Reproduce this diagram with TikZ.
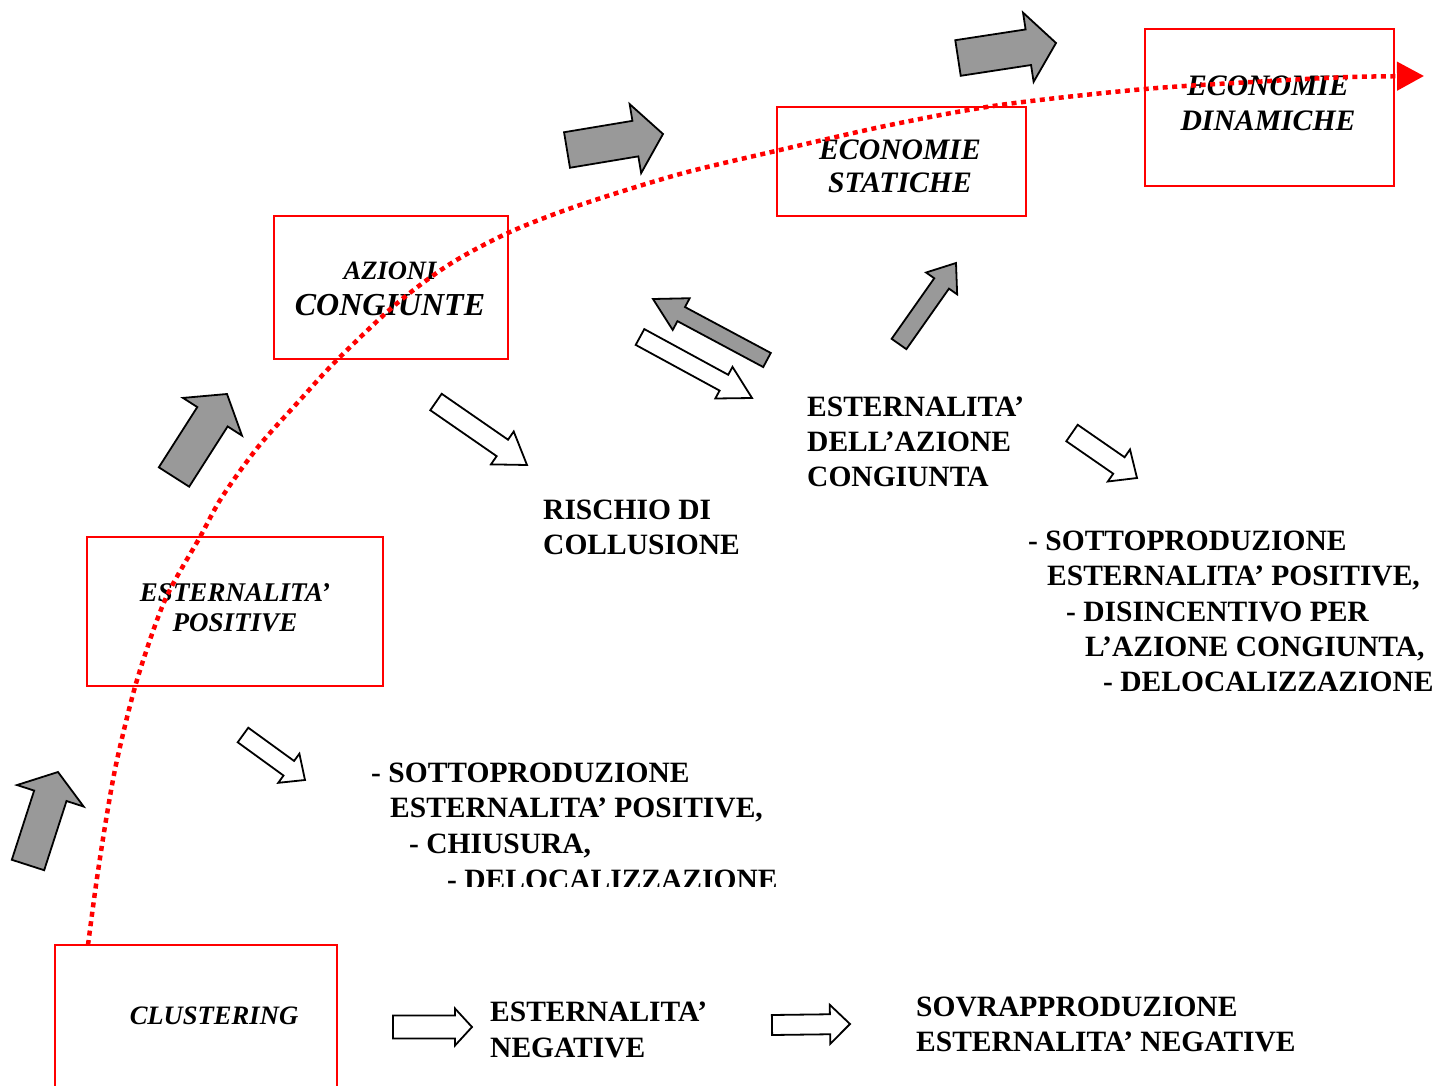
\documentclass[tikz,border=0pt]{standalone}
\usepackage{fontspec}
\setmainfont{Liberation Serif}
\usetikzlibrary{calc,arrows.meta}
\newcommand\blockarr[6][]{%
  \coordinate (bT) at (#2); \coordinate (bH) at (#3);
  \coordinate (bB) at ($(bH)!#6!(bT)$);
  \draw[#1] ($(bT)!#4!90:(bH)$) -- ($(bB)!#4!-90:(bT)$) -- ($(bB)!#5!-90:(bT)$) -- (bH)
    -- ($(bB)!#5!90:(bT)$) -- ($(bB)!#4!90:(bT)$) -- ($(bT)!#4!-90:(bH)$) -- cycle;}
\tikzset{
  redbox/.style={draw=red, line width=1.6pt, inner sep=0pt},
  boxtxt/.style={font=\fontsize{#1}{#1}\selectfont\bfseries\itshape, inner sep=0pt, anchor=base},
  lbl/.style={font=\fontsize{29.5}{35}\selectfont\bfseries, inner sep=0pt, anchor=base west},
  grayarr/.style={draw=black, line width=1.8pt, fill=black!40, line join=miter},
  whitearr/.style={draw=black, line width=1.8pt, fill=white, line join=miter},
  dotcurve/.style={red, line width=4.5pt, dash pattern=on 5pt off 4.5pt, -{Triangle[length=27pt,width=28pt]}}
}
\begin{document}
\begin{tikzpicture}[x=1pt,y=-1pt]
\useasboundingbox (0,0) rectangle (1435,1086);
\clip (0,0) rectangle (1435,1086);
% boxes
\node[redbox, minimum width=282pt, minimum height=142pt] (clusterbox) at (196,1016) {};
\node[redbox, minimum width=296pt, minimum height=149pt] (posbox) at (235,611.5) {};
\node[redbox, minimum width=234pt, minimum height=143pt] (azbox) at (391,287.5) {};
\node[redbox, minimum width=249pt, minimum height=109pt] (statbox) at (901.5,161.5) {};
\node[redbox, minimum width=249pt, minimum height=157pt] (dinbox) at (1269.5,107.5) {};
% box texts (placed on baseline = centre + 0.331 size)
\node[boxtxt=26.6] (t1) at (214,1024.8) {CLUSTERING};
\node[boxtxt=27] (t2a) at (235,601) {ESTERNALITA’};
\node[boxtxt=27] (t2b) at (235,631) {POSITIVE};
\node[boxtxt=26.5] (t3a) at (390,279.8) {AZIONI};
\node[boxtxt=32] (t3b) at (390,315.6) {CONGIUNTE};
\node[boxtxt=29.7] (t4a) at (900,159.8) {ECONOMIE};
\node[boxtxt=29.7] (t4b) at (900,192.8) {STATICHE};
\node[boxtxt=29.7] (t5a) at (1268,95.8) {ECONOMIE};
\node[boxtxt=29.7] (t5b) at (1268,130.8) {DINAMICHE};
% labels (baseline = centre + 9.8)
\node[lbl] (r1) at (543,519.8) {RISCHIO DI};
\node[lbl] (r2) at (543,554.8) {COLLUSIONE};
\node[lbl] (e1) at (807,416.8) {ESTERNALITA’};
\node[lbl] (e2) at (807,451.8) {DELL’AZIONE};
\node[lbl] (e3) at (807,486.8) {CONGIUNTA};
\node[lbl] (s1) at (1028,550.8) {- SOTTOPRODUZIONE};
\node[lbl] (s2) at (1047,585.8) {ESTERNALITA’ POSITIVE,};
\node[lbl] (s3) at (1066,621.8) {- DISINCENTIVO PER};
\node[lbl] (s4) at (1085,656.8) {L’AZIONE CONGIUNTA,};
\node[lbl] (s5) at (1103,691.8) {- DELOCALIZZAZIONE};
\node[lbl] (p1) at (371,782.8) {- SOTTOPRODUZIONE};
\node[lbl] (p2) at (390,817.8) {ESTERNALITA’ POSITIVE,};
\node[lbl] (p3) at (409,853.8) {- CHIUSURA,};
\begin{scope}
\clip (0,0) rectangle (1435,886);
\node[lbl] (p4) at (447,889.5) {- DELOCALIZZAZIONE};
\end{scope}
\node[lbl] (n1) at (490,1021.8) {ESTERNALITA’};
\node[lbl] (n2) at (490,1057.8) {NEGATIVE};
\node[lbl] (v1) at (916,1016.8) {SOVRAPPRODUZIONE};
\node[lbl] (v2) at (916,1051.8) {ESTERNALITA’ NEGATIVE};
% gray block arrows
\blockarr[grayarr]{28,865}{58,772}{17pt}{35pt}{25pt}
\blockarr[grayarr]{174,477}{227,394}{18pt}{35pt}{27pt}
\blockarr[grayarr]{567,150}{663,134}{18pt}{35pt}{28pt}
\blockarr[grayarr]{958,58}{1056,43}{18pt}{35pt}{28pt}
\blockarr[grayarr]{899,344}{956,263}{9pt}{19pt}{25pt}
\blockarr[grayarr]{767,360}{653,299}{8pt}{18pt}{32pt}
% white block arrows
\blockarr[whitearr]{640,337}{752,398}{9pt}{18pt}{32pt}
\blockarr[whitearr]{436,402}{527,465}{10pt}{20pt}{30pt}
\blockarr[whitearr]{1072,433}{1137,478}{10pt}{19.5pt}{22pt}
\blockarr[whitearr]{243,735}{305,780}{9pt}{18pt}{20pt}
\blockarr[whitearr]{393,1027}{472,1027}{11.5pt}{18.5pt}{17pt}
\blockarr[whitearr]{772,1025}{850,1024}{10pt}{19.5pt}{20pt}
% dotted curve
\coordinate (cstart) at (88,945);
\coordinate (cend) at (1424,76);
\draw[dotcurve] plot[smooth] coordinates {(cstart) (96,885) (106,820) (117,760) (137,680) (165,600) (200,537) (222,497) (258,447) (300,400) (335,362) (395,305) (450,264) (510,232) (580,205) (680,174) (780,150) (890,125) (1000,105) (1145,89) (1270,81) (1350,77) (cend)};
\end{tikzpicture}
\end{document}
